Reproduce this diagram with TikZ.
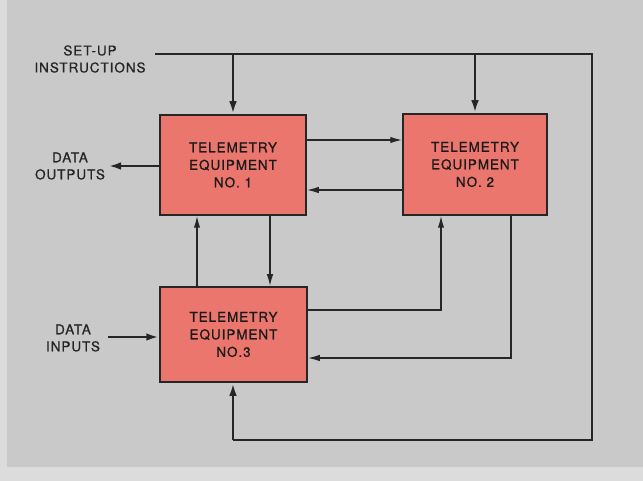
\documentclass[tikz,border=0pt]{standalone}
\usepackage{fontspec}
\setmainfont{TeX Gyre Heros}[LetterSpace=7, FakeBold=0.9]
\usetikzlibrary{arrows.meta}
\definecolor{bg}{HTML}{C9C9C9}
\definecolor{bgl}{HTML}{DCDCDC}
\definecolor{boxfill}{HTML}{EA766D}
\definecolor{ink}{HTML}{262626}
\tikzset{
  eqbox/.style={draw=ink, line width=1.5pt, fill=boxfill, inner sep=0pt, align=center,
     font=\fontsize{13.5}{17.5}\selectfont, text=ink!70!black},
  lbl/.style={align=center, font=\fontsize{13.5}{17}\selectfont, text=ink},
  heavy/.style={draw=ink, line width=2.9pt},
  light/.style={draw=ink, line width=1.6pt},
  harr/.style={heavy, -{Latex[length=13pt,width=7.5pt]}},
  larr/.style={light, -{Latex[length=12pt,width=6.5pt]}},
}
\begin{document}
\begin{tikzpicture}[x=1pt,y=-1pt]
\fill[bg] (0,0) rectangle (643,481);
\fill[bgl] (0,0) rectangle (7,481);
\fill[bgl] (0,467) rectangle (643,481);
\useasboundingbox (0,0) rectangle (643,481);

\node[eqbox, minimum width=146pt, minimum height=100pt] (b1) at (233,165) {TELEMETRY\\EQUIPMENT\\NO. 1};
\node[eqbox, minimum width=144pt, minimum height=101pt] (b2) at (475,164.5) {TELEMETRY\\EQUIPMENT\\NO. 2};
\node[eqbox, minimum width=147pt, minimum height=95pt] (b3) at (233.5,334.5) {TELEMETRY\\EQUIPMENT\\NO.3};

\node[lbl] (su) at (90,59) {SET-UP\\INSTRUCTIONS};
\node[lbl] (dout) at (70,166) {DATA\\OUTPUTS};
\node[lbl] (din) at (73,338) {DATA\\INPUTS};

\coordinate (s0) at (155,54);
\coordinate (ne) at (592,54);
\coordinate (se) at (592,440);
\coordinate (sw) at (233,440);
\coordinate (y12) at (0,140);
\coordinate (y21) at (0,190);
\coordinate (x31) at (197,0);
\coordinate (x13) at (270,0);
\coordinate (y32) at (0,310);
\coordinate (x32) at (441,0);
\coordinate (x23) at (511,0);
\coordinate (y23) at (0,358);
\coordinate (outend) at (108,166);
\coordinate (instart) at (108,337);

% set-up loop
\draw[heavy, line join=miter] (s0) -- (ne) -- (se) -- (sw);
\draw[harr] (sw) -- (sw |- b3.south);
\draw[harr] (b1.north |- s0) -- (b1.north);
\draw[harr] (b2.north |- s0) -- (b2.north);

% data in/out
\draw[harr] (b1.west |- outend) -- (outend);
\draw[harr] (instart) -- (b3.west |- instart);

% between boxes
\draw[larr] (b1.east |- y12) -- (b2.west |- y12);
\draw[larr] (b2.west |- y21) -- (b1.east |- y21);
\draw[larr] (x31 |- b3.north) -- (x31 |- b1.south);
\draw[larr] (x13 |- b1.south) -- (x13 |- b3.north);
\draw[larr] (b3.east |- y32) -| (x32 |- b2.south);
\draw[larr] (x23 |- b2.south) |- (b3.east |- y23);
\end{tikzpicture}
\end{document}
